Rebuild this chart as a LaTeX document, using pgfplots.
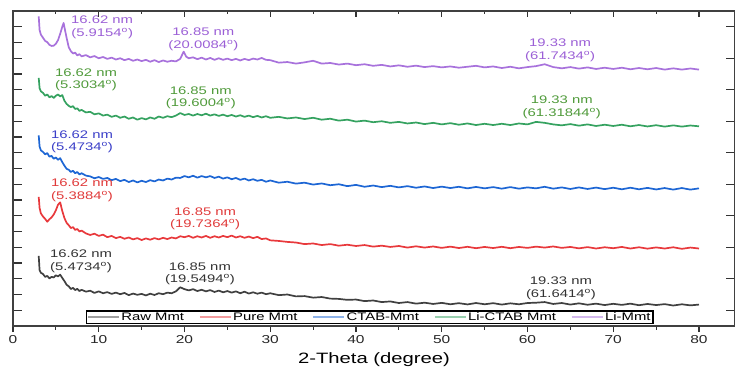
\documentclass[border=0pt]{standalone}
\usepackage{fontspec}
\setmainfont{Liberation Sans}[FakeStretch=1.35]
\usepackage{pgfplots}
\pgfplotsset{compat=1.18}
\definecolor{cblack}{HTML}{404040}
\definecolor{cred}{HTML}{E8393C}
\definecolor{cblue}{HTML}{1D66D4}
\definecolor{cgreen}{HTML}{35A260}
\definecolor{cpurple}{HTML}{A872DC}
\definecolor{tpurple}{HTML}{9B5FD6}
\definecolor{tgreen}{HTML}{4F9A3A}
\definecolor{tblue}{HTML}{3B3FC8}
\definecolor{tred}{HTML}{E03A3A}
\definecolor{tblack}{HTML}{333333}
\pgfplotsset{tickonly/.style={at={(0pt,0pt)}, anchor=south west,
  scale only axis, width=722pt, height=315pt,
  xmin=0, xmax=84.2, ymin=0, ymax=20,
  axis line style={draw=none}, xticklabels={}, yticklabels={},
  tick align=inside, every tick/.style={black!80, line width=1.1pt}}}
\begin{document}
\begin{tikzpicture}
\path[use as bounding box] (-13pt,-42pt) rectangle (722pt,326pt);
\begin{axis}[
  at={(0pt,0pt)}, anchor=south west,
  scale only axis, width=722pt, height=315pt,
  xmin=0, xmax=84.2, ymin=0, ymax=20,
  axis line style={black!80, line width=1.6pt},
  xtick={0,10,...,80}, minor xtick={5,15,...,75},
  xtick pos=left, tick align=outside,
  major tick length=6pt, minor tick length=3.5pt,
  ytick=\empty,
  every tick/.style={black!80, line width=1.1pt},
  /pgf/number format/assume math mode=true,
  ticklabel style={font=\fontsize{11.5}{13}\selectfont, text=black!85},
  xlabel={2-Theta (degree)},
  xlabel style={font=\fontsize{15}{17}\selectfont, at={(axis description cs:0.5,0)}, anchor=center, yshift=-34pt},
  legend columns=5,
  legend style={at={(axis description cs:0.494,0.006)}, anchor=south, draw=black, line width=1.2pt,
    inner xsep=1pt, inner ysep=0pt, font=\fontsize{11}{11}\selectfont,
    nodes={inner sep=1.5pt},
    /tikz/every even column/.append style={column sep=13.5pt}},
  legend image code/.code={\draw[#1,opacity=0.5,line width=1.6pt] (0pt,0pt) -- (31pt,0pt);},
  every axis plot/.append style={line width=1.7pt, line join=round},
]
\addplot[cblack] coordinates {
(3,4.45)(3.1,3.55)(3.25,3.38)(3.5,3.30)(3.75,3.12)(4,3.18)(4.25,3.02)(4.5,3.12)(4.75,3.08)(5,3.22)(5.25,3.15)(5.5,3.26)(5.75,3.05)(6,2.85)(6.25,2.62)(6.5,2.52)(6.75,2.35)(7,2.42)(7.25,2.28)(7.5,2.36)(7.75,2.22)(8,2.30)
(8.5,2.18)(9,2.24)(9.5,2.10)(10,2.20)(10.5,2.08)(11,2.15)(11.5,2.04)(12,2.12)(12.5,2.02)(13,2.10)(13.5,1.96)(14,2.06)(14.5,1.98)(15,2.04)(15.5,1.94)(16,2.05)(16.5,1.97)(17,2.08)(17.5,2.02)(18,2.12)(18.5,2.08)(19,2.20)(19.5,2.46)(20,2.34)(20.5,2.26)(21,2.34)(21.5,2.22)(22,2.30)(22.5,2.20)(23,2.28)(23.5,2.16)(24,2.25)(24.5,2.14)(25,2.22)(25.5,2.12)(26,2.20)(26.5,2.08)(27,2.18)(27.5,2.06)(28,2.14)(28.5,2.05)(29,2.12)(29.5,2.02)(30,2.08)
(31,1.96)(32,2.00)(33,1.88)(34,1.90)(35,1.80)(36,1.84)(37,1.74)(38,1.72)(39,1.66)(40,1.68)(41,1.58)(42,1.62)(43,1.52)(44,1.56)(45,1.46)(46,1.52)(47,1.42)(48,1.48)(49,1.40)(50,1.47)(51,1.38)(52,1.45)(53,1.37)(54,1.46)(55,1.38)(56,1.45)(57,1.36)(58,1.44)(59,1.38)(60,1.46)(61,1.48)(62,1.52)(63,1.40)(64,1.46)(65,1.36)(66,1.44)(67,1.35)(68,1.42)(69,1.33)(70,1.41)(71,1.34)(72,1.42)(73,1.32)(74,1.40)(75,1.33)(76,1.39)(77,1.30)(78,1.38)(79,1.31)(80,1.36)
};
\addlegendentry{Raw Mmt}
\addplot[cred] coordinates {
(3,8.20)(3.1,7.50)(3.25,7.15)(3.5,6.95)(3.75,6.80)(4,6.62)(4.25,6.78)(4.5,6.90)(4.75,7.08)(5,7.35)(5.25,7.70)(5.5,7.85)(5.75,7.30)(6,6.85)(6.25,6.55)(6.5,6.40)(6.75,6.22)(7,6.28)(7.25,6.10)(7.5,6.16)(7.75,6.00)(8,6.06)
(8.5,5.88)(9,5.78)(9.5,5.86)(10,5.72)(10.5,5.80)(11,5.64)(11.5,5.72)(12,5.58)(12.5,5.66)(13,5.54)(13.5,5.62)(14,5.50)(14.5,5.58)(15,5.46)(15.5,5.56)(16,5.48)(16.5,5.58)(17,5.50)(17.5,5.60)(18,5.52)(18.5,5.62)(19,5.56)(19.5,5.70)(20,5.64)(20.5,5.72)(21,5.60)(21.5,5.70)(22,5.62)(22.5,5.72)(23,5.60)(23.5,5.70)(24,5.62)(24.5,5.72)(25,5.64)(25.5,5.74)(26,5.62)(26.5,5.70)(27,5.60)(27.5,5.68)(28,5.58)(28.5,5.66)(29,5.52)(29.5,5.56)(30,5.44)
(31,5.40)(32,5.34)(33,5.30)(34,5.20)(35,5.24)(36,5.14)(37,5.20)(38,5.10)(39,5.16)(40,5.08)(41,5.14)(42,5.04)(43,5.10)(44,5.02)(45,5.08)(46,4.98)(47,5.06)(48,4.98)(49,5.05)(50,4.96)(51,5.04)(52,4.95)(53,5.03)(54,4.94)(55,5.02)(56,4.95)(57,5.03)(58,4.94)(59,5.02)(60,4.96)(61,5.04)(62,4.98)(63,5.05)(64,4.96)(65,5.02)(66,4.93)(67,5.01)(68,4.92)(69,5.00)(70,4.94)(71,5.02)(72,4.92)(73,5.00)(74,4.91)(75,4.99)(76,4.92)(77,5.00)(78,4.90)(79,4.98)(80,4.92)
};
\addlegendentry{Pure Mmt}
\addplot[cblue] coordinates {
(3,12.10)(3.1,11.40)(3.25,11.15)(3.5,11.05)(3.75,10.90)(4,10.98)(4.25,10.75)(4.5,10.80)(4.75,10.62)(5,10.70)(5.25,10.55)(5.5,10.66)(5.75,10.40)(6,10.18)(6.25,9.98)(6.5,9.92)(6.75,9.78)(7,9.86)(7.25,9.70)(7.5,9.78)(7.75,9.62)(8,9.70)
(8.5,9.55)(9,9.50)(9.5,9.38)(10,9.46)(10.5,9.34)(11,9.40)(11.5,9.26)(12,9.34)(12.5,9.20)(13,9.28)(13.5,9.14)(14,9.24)(14.5,9.12)(15,9.22)(15.5,9.14)(16,9.26)(16.5,9.18)(17,9.30)(17.5,9.24)(18,9.36)(18.5,9.30)(19,9.42)(19.5,9.40)(20,9.52)(20.5,9.44)(21,9.54)(21.5,9.42)(22,9.52)(22.5,9.44)(23,9.52)(23.5,9.40)(24,9.48)(24.5,9.36)(25,9.44)(25.5,9.32)(26,9.40)(26.5,9.28)(27,9.36)(27.5,9.24)(28,9.32)(28.5,9.22)(29,9.28)(29.5,9.16)(30,9.24)
(31,9.10)(32,9.16)(33,9.04)(34,9.10)(35,8.98)(36,9.05)(37,8.94)(38,9.00)(39,8.88)(40,8.96)(41,8.84)(42,8.92)(43,8.82)(44,8.90)(45,8.80)(46,8.88)(47,8.78)(48,8.86)(49,8.76)(50,8.85)(51,8.76)(52,8.84)(53,8.74)(54,8.83)(55,8.74)(56,8.82)(57,8.72)(58,8.82)(59,8.72)(60,8.80)(61,8.74)(62,8.84)(63,8.72)(64,8.80)(65,8.70)(66,8.80)(67,8.70)(68,8.79)(69,8.69)(70,8.78)(71,8.68)(72,8.78)(73,8.68)(74,8.77)(75,8.67)(76,8.76)(77,8.66)(78,8.76)(79,8.66)(80,8.74)
};
\addlegendentry{CTAB-Mmt}
\addplot[cgreen] coordinates {
(3,15.75)(3.1,15.10)(3.25,14.90)(3.5,14.80)(3.75,14.62)(4,14.70)(4.25,14.52)(4.5,14.60)(4.75,14.48)(5,14.62)(5.25,14.70)(5.5,14.58)(5.75,14.66)(6,14.30)(6.25,14.10)(6.5,13.98)(6.75,13.90)(7,13.96)(7.25,13.78)(7.5,13.82)(7.75,13.66)(8,13.72)
(8.5,13.56)(9,13.60)(9.5,13.44)(10,13.50)(10.5,13.36)(11,13.42)(11.5,13.28)(12,13.36)(12.5,13.22)(13,13.30)(13.5,13.16)(14,13.24)(14.5,13.10)(15,13.20)(15.5,13.12)(16,13.24)(16.5,13.16)(17,13.30)(17.5,13.22)(18,13.32)(18.5,13.26)(19,13.36)(19.5,13.52)(20,13.40)(20.5,13.46)(21,13.36)(21.5,13.46)(22,13.38)(22.5,13.48)(23,13.36)(23.5,13.44)(24,13.34)(24.5,13.42)(25,13.32)(25.5,13.40)(26,13.30)(26.5,13.38)(27,13.28)(27.5,13.36)(28,13.26)(28.5,13.34)(29,13.24)(29.5,13.32)(30,13.22)
(31,13.28)(32,13.18)(33,13.24)(34,13.14)(35,13.22)(36,13.10)(37,13.16)(38,13.04)(39,13.10)(40,12.98)(41,13.04)(42,12.94)(43,13.00)(44,12.90)(45,12.96)(46,12.86)(47,12.92)(48,12.82)(49,12.90)(50,12.80)(51,12.88)(52,12.78)(53,12.86)(54,12.76)(55,12.84)(56,12.76)(57,12.84)(58,12.76)(59,12.86)(60,12.80)(61,12.96)(62,12.90)(63,12.80)(64,12.74)(65,12.82)(66,12.72)(67,12.80)(68,12.70)(69,12.78)(70,12.70)(71,12.78)(72,12.68)(73,12.76)(74,12.67)(75,12.75)(76,12.66)(77,12.74)(78,12.66)(79,12.73)(80,12.68)
};
\addlegendentry{Li-CTAB Mmt}
\addplot[cpurple] coordinates {
(3,19.66)(3.1,18.80)(3.25,18.50)(3.5,18.30)(3.75,18.10)(4,18.02)(4.25,17.85)(4.5,17.78)(4.75,17.80)(5,17.92)(5.25,18.15)(5.5,18.55)(5.75,19.00)(5.9,19.24)(6.1,18.70)(6.25,18.30)(6.5,17.70)(6.75,17.45)(7,17.30)(7.25,17.36)(7.5,17.18)(7.75,17.26)(8,17.12)
(8.5,17.20)(9,17.06)(9.5,17.14)(10,17.00)(10.5,17.08)(11,16.96)(11.5,17.04)(12,16.92)(12.5,17.00)(13,16.88)(13.5,16.96)(14,16.84)(14.5,16.92)(15,16.82)(15.5,16.90)(16,16.78)(16.5,16.88)(17,16.76)(17.5,16.86)(18,16.78)(18.5,16.84)(19,16.80)(19.5,16.96)(19.9,17.42)(20.2,17.10)(20.5,17.00)(21,17.06)(21.5,16.94)(22,17.04)(22.5,16.92)(23,17.02)(23.5,16.90)(24,17.00)(24.5,16.90)(25,16.98)(25.5,16.88)(26,16.96)(26.5,16.86)(27,16.96)(27.5,16.88)(28,16.98)(28.5,16.92)(29,17.02)(29.5,16.90)(30,16.88)
(31,16.72)(32,16.76)(33,16.66)(34,16.74)(35,16.84)(36,16.66)(37,16.70)(38,16.60)(39,16.66)(40,16.56)(41,16.62)(42,16.52)(43,16.58)(44,16.48)(45,16.55)(46,16.46)(47,16.53)(48,16.44)(49,16.50)(50,16.42)(51,16.48)(52,16.40)(53,16.46)(54,16.52)(55,16.42)(56,16.48)(57,16.38)(58,16.46)(59,16.36)(60,16.44)(61,16.50)(62,16.62)(63,16.44)(64,16.36)(65,16.44)(66,16.34)(67,16.42)(68,16.32)(69,16.40)(70,16.32)(71,16.40)(72,16.30)(73,16.38)(74,16.30)(75,16.38)(76,16.28)(77,16.36)(78,16.28)(79,16.35)(80,16.28)
};
\addlegendentry{Li-Mmt}
\begin{scope}[every node/.style={font=\fontsize{11}{12.5}\selectfont, align=center, inner sep=0pt}]
\node[text=tpurple] at (axis cs:10.4,18.95) {16.62 nm\\(5.9154\textsuperscript{o})};
\node[text=tpurple] at (axis cs:22.2,18.2) {16.85 nm\\(20.0084\textsuperscript{o})};
\node[text=tpurple] at (axis cs:63.8,17.5) {19.33 nm\\(61.7434\textsuperscript{o})};
\node[text=tgreen] at (axis cs:8.51,15.62) {16.62 nm\\(5.3034\textsuperscript{o})};
\node[text=tgreen] at (axis cs:21.9,14.5) {16.85 nm\\(19.6004\textsuperscript{o})};
\node[text=tgreen] at (axis cs:64.0,13.9) {19.33 nm\\(61.31844\textsuperscript{o})};
\node[text=tblue] at (axis cs:8.05,11.7) {16.62 nm\\(5.4734\textsuperscript{o})};
\node[text=tred] at (axis cs:8.05,8.62) {16.62 nm\\(5.3884\textsuperscript{o})};
\node[text=tred] at (axis cs:22.4,6.8) {16.85 nm\\(19.7364\textsuperscript{o})};
\node[text=tblack] at (axis cs:7.93,4.1) {16.62 nm\\(5.4734\textsuperscript{o})};
\node[text=tblack] at (axis cs:21.8,3.33) {16.85 nm\\(19.5494\textsuperscript{o})};
\node[text=tblack] at (axis cs:63.9,2.38) {19.33 nm\\(61.6414\textsuperscript{o})};
\end{scope}
\end{axis}
\begin{axis}[tickonly,
  xtick={0,10,...,80}, minor xtick={5,15,...,75}, xtick pos=right,
  ytick=\empty,
  major tick length=6pt, minor tick length=3pt]
\end{axis}
\begin{axis}[tickonly,
  xtick=\empty, ytick={1,...,19}, ytick pos=left,
  major tick length=9pt]
\end{axis}
\begin{axis}[tickonly,
  xtick=\empty, ytick={1,3,...,19}, ytick pos=right,
  major tick length=9pt]
\end{axis}
\draw[black!75, line width=1.6pt] (0pt,0pt) rectangle (722pt,315pt);
\end{tikzpicture}
\end{document}
